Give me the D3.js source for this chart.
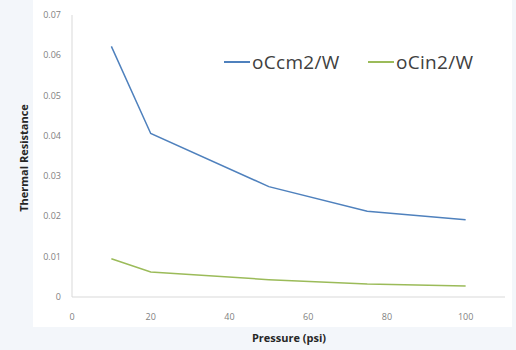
<!DOCTYPE html>
<html>
<head>
<meta charset="utf-8">
<script src="https://cdn.jsdelivr.net/npm/d3@7"></script>
<style>
  body { margin: 0; background: #f3f6fa; }
  svg { display: block; font-family: "Open Sans", "DejaVu Sans", sans-serif; }
</style>
</head>
<body>
<div id="chart"></div>
<script>
// data
var pressures = [10, 20, 50, 75, 100];
var cm2Values = [0.0622, 0.0406, 0.0274, 0.0213, 0.0192];
var in2Values = [0.0095, 0.0062, 0.0043, 0.0032, 0.0027];
var seriesNames = ["oCcm2/W", "oCin2/W"];
var seriesColors = ["#4f81bd", "#9bbb59"];
var xTicks = [0, 20, 40, 60, 80, 100];
var yTicks = [0, 0.01, 0.02, 0.03, 0.04, 0.05, 0.06, 0.07];

var width = 516, height = 350;
var svg = d3.select("#chart").append("svg")
    .attr("width", width)
    .attr("height", height);

// white plot panel
svg.append("rect")
    .attr("x", 33).attr("y", 0)
    .attr("width", 479).attr("height", 327)
    .attr("fill", "#ffffff");

var x = d3.scaleLinear().domain([0, 110]).range([72, 505]);
var y = d3.scaleLinear().domain([0, 0.07]).range([297, 15]);

// axes lines
svg.append("line")
    .attr("x1", x(0)).attr("x2", x(0))
    .attr("y1", y(0.07)).attr("y2", y(0))
    .attr("stroke", "#d9d9d9");
svg.append("line")
    .attr("x1", x(0)).attr("x2", x(110))
    .attr("y1", y(0)).attr("y2", y(0))
    .attr("stroke", "#d9d9d9");

// tick labels
svg.selectAll("text.ytick")
    .data(yTicks)
    .enter().append("text")
    .attr("class", "ytick")
    .attr("x", 61)
    .attr("y", function(d) { return y(d) + 3; })
    .attr("text-anchor", "end")
    .attr("font-size", "9px")
    .attr("fill", "#7f7f7f")
    .text(function(d) { return d === 0 ? "0" : d.toFixed(2); });

svg.selectAll("text.xtick")
    .data(xTicks)
    .enter().append("text")
    .attr("class", "xtick")
    .attr("x", function(d) { return x(d); })
    .attr("y", 320)
    .attr("text-anchor", "middle")
    .attr("font-size", "9px")
    .attr("fill", "#7f7f7f")
    .text(function(d) { return d; });

// axis titles
svg.append("text")
    .attr("x", 289).attr("y", 342)
    .attr("text-anchor", "middle")
    .attr("font-size", "11px")
    .attr("font-weight", "bold")
    .attr("fill", "#262626")
    .text("Pressure (psi)");

svg.append("text")
    .attr("transform", "translate(28,158) rotate(-90)")
    .attr("text-anchor", "middle")
    .attr("font-size", "11px")
    .attr("font-weight", "bold")
    .attr("fill", "#262626")
    .text("Thermal Resistance");

// lines
var line = d3.line()
    .x(function(d) { return x(d[0]); })
    .y(function(d) { return y(d[1]); });

[cm2Values, in2Values].forEach(function(vals, i) {
    svg.append("path")
        .datum(d3.zip(pressures, vals))
        .attr("fill", "none")
        .attr("stroke", seriesColors[i])
        .attr("stroke-width", 1.5)
        .attr("d", line);
});

// legend
var legendX = [224, 368];
seriesNames.forEach(function(name, i) {
    svg.append("line")
        .attr("x1", legendX[i]).attr("x2", legendX[i] + 26)
        .attr("y1", 62).attr("y2", 62)
        .attr("stroke", seriesColors[i])
        .attr("stroke-width", 2);
    svg.append("text")
        .attr("x", legendX[i] + 28).attr("y", 69)
        .attr("font-size", "19px")
        .attr("letter-spacing", "0.3px")
        .attr("fill", "#404040")
        .text(name);
});
</script>
</body>
</html>
